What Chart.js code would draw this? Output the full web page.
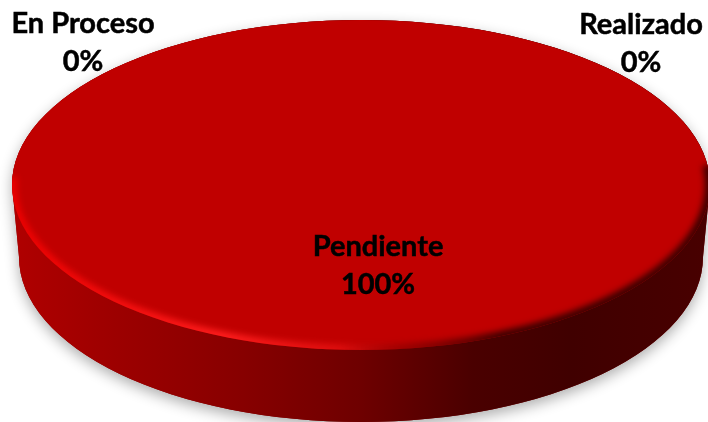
<!DOCTYPE html>
<html>
<head>
<meta charset="utf-8">
<script src="https://cdn.jsdelivr.net/npm/chart.js@4"></script>
<style>
  html, body { margin: 0; padding: 0; background: #fff; }
  canvas { display: block; }
</style>
</head>
<body>
<canvas id="chart" width="708" height="422"></canvas>
<script>
const estados = ['En Proceso', 'Pendiente', 'Realizado'];
const porcentajes = [0, 100, 0];

// where each label sits, centre of the text block
const labelPos = [[83, 43], [378, 266], [641, 44]];

const SQUASH = 165 / 349;   // tilt of the disc
const DEPTH = 72;           // height of the side wall
const INSET = 7;            // the base is a bit narrower than the top

function topPath(ctx, a) {
    ctx.beginPath();
    ctx.ellipse(a.x, a.y, a.outerRadius, a.outerRadius * SQUASH, 0, 0, Math.PI * 2);
}

function wallPath(ctx, a) {
    const r = a.outerRadius, ry = r * SQUASH;
    ctx.beginPath();
    ctx.moveTo(a.x - r, a.y);
    ctx.lineTo(a.x - r + INSET, a.y + DEPTH);
    ctx.ellipse(a.x, a.y + DEPTH, r - INSET, ry, 0, Math.PI, 0, true);
    ctx.lineTo(a.x + r, a.y);
    ctx.ellipse(a.x, a.y, r, ry, 0, 0, Math.PI, true);
    ctx.closePath();
}

const disc3d = {
    id: 'disc3d',
    beforeDatasetsDraw(chart) {
        const ctx = chart.ctx;
        const a = chart.getDatasetMeta(0).data[1];

        // soft shadow under the disc
        ctx.save();
        ctx.shadowColor = 'rgba(0,0,0,0.32)';
        ctx.shadowBlur = 14;
        ctx.shadowOffsetY = 5;
        ctx.fillStyle = '#800000';
        wallPath(ctx, a);
        ctx.fill();
        ctx.restore();

        // side wall
        const g = ctx.createLinearGradient(a.x - a.outerRadius, 0, a.x + a.outerRadius, 0);
        g.addColorStop(0, '#b00000');
        g.addColorStop(0.12, '#a00000');
        g.addColorStop(0.33, '#870000');
        g.addColorStop(0.5, '#6e0000');
        g.addColorStop(0.66, '#4a0000');
        g.addColorStop(0.8, '#400000');
        g.addColorStop(1, '#480000');
        ctx.fillStyle = g;
        wallPath(ctx, a);
        ctx.fill();

        // flatten the pie itself
        ctx.save();
        ctx.translate(a.x, a.y);
        ctx.scale(1, SQUASH);
        ctx.translate(-a.x, -a.y);
    },
    afterDatasetsDraw(chart) {
        const ctx = chart.ctx;
        ctx.restore();
        const a = chart.getDatasetMeta(0).data[1];
        const r = a.outerRadius;

        // bevel along the rim, bright on the left, dark on the right
        ctx.save();
        topPath(ctx, a);
        ctx.clip();
        const g = ctx.createLinearGradient(a.x - r, 0, a.x + r, 0);
        g.addColorStop(0, 'rgba(240,0,0,0.9)');
        g.addColorStop(0.3, 'rgba(255,30,30,1)');
        g.addColorStop(0.47, 'rgba(235,20,20,0.7)');
        g.addColorStop(0.56, 'rgba(120,0,0,0.5)');
        g.addColorStop(0.7, 'rgba(60,0,0,1)');
        g.addColorStop(1, 'rgba(60,0,0,1)');
        ctx.filter = 'blur(3px)';
        ctx.strokeStyle = g;
        ctx.lineWidth = 10;
        ctx.beginPath();
        ctx.ellipse(a.x, a.y, r, r * SQUASH, 0, -0.12, Math.PI + 0.05);
        ctx.stroke();
        ctx.restore();
    },
    afterDraw(chart) {
        const ctx = chart.ctx;
        ctx.save();
        ctx.font = 'bold 29px Lato, "Open Sans", sans-serif';
        ctx.textAlign = 'center';
        ctx.textBaseline = 'middle';
        ctx.fillStyle = '#000';
        ctx.strokeStyle = '#000';
        ctx.lineWidth = 0.5;
        estados.forEach((nombre, i) => {
            const [x, y] = labelPos[i];
            ctx.fillText(nombre, x, y - 19);
            ctx.strokeText(nombre, x, y - 19);
            ctx.fillText(porcentajes[i] + '%', x, y + 19);
            ctx.strokeText(porcentajes[i] + '%', x, y + 19);
        });
        ctx.restore();
    }
};

const myChart = new Chart(document.getElementById('chart').getContext('2d'), {
    type: 'pie',
    data: {
        labels: estados,
        datasets: [{
            data: porcentajes,
            backgroundColor: ['#c00000', '#c00000', '#c00000'],
            borderWidth: 0
        }]
    },
    options: {
        responsive: false,
        animation: false,
        radius: 349,
        layout: { padding: { left: 14, bottom: 52 } },
        plugins: {
            legend: { display: false },
            tooltip: { enabled: false }
        }
    },
    plugins: [disc3d]
});
</script>
</body>
</html>
